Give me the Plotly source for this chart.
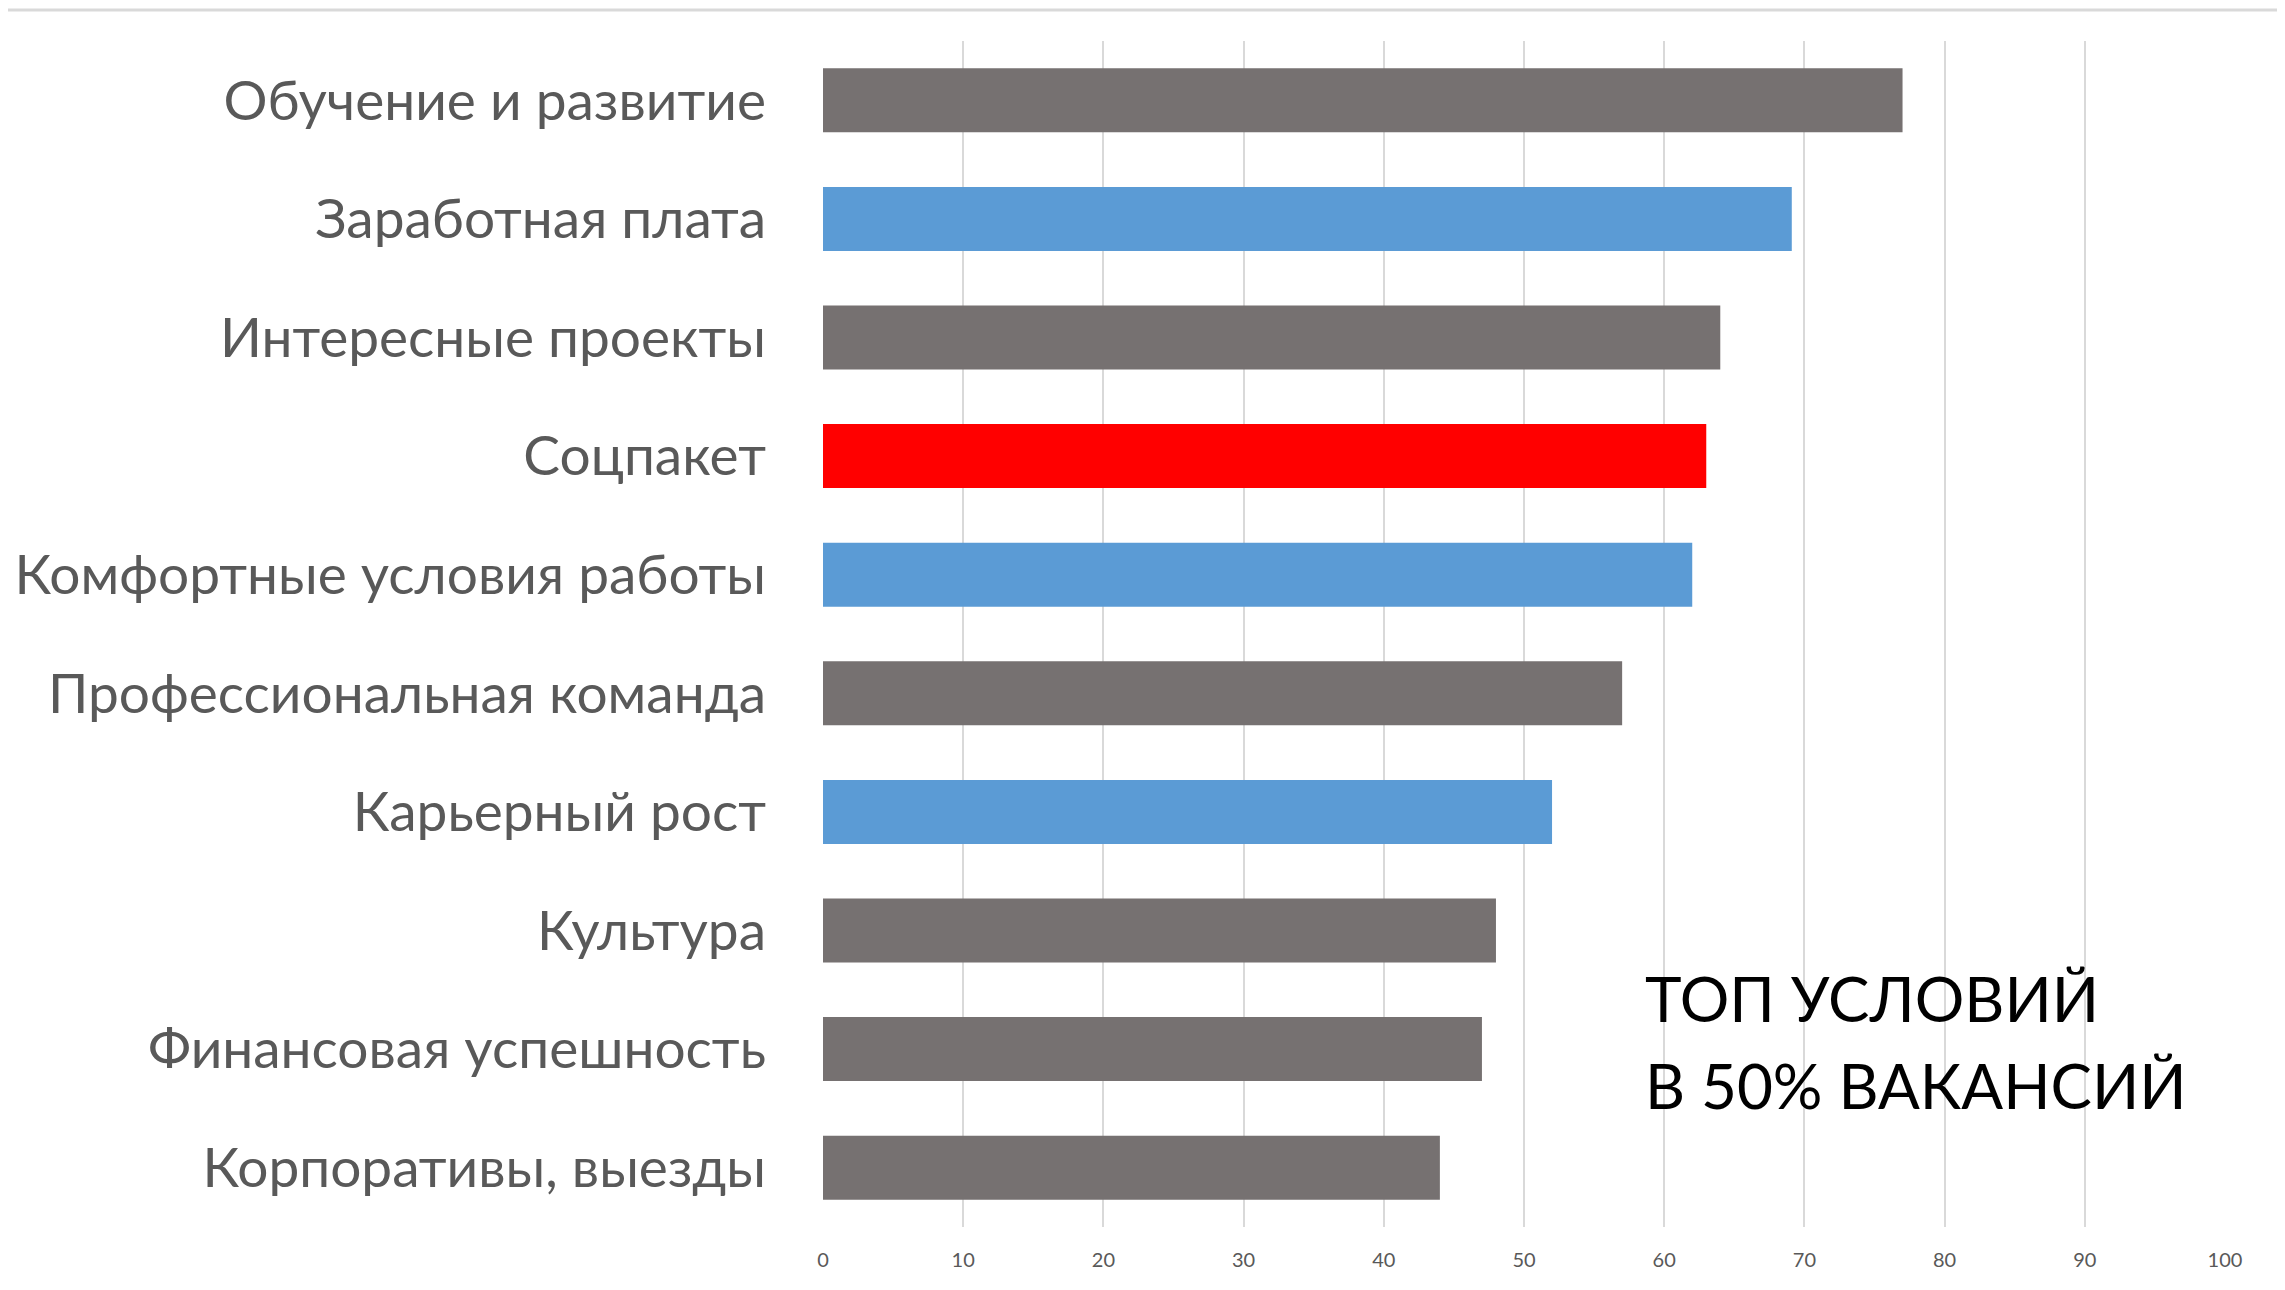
import plotly.graph_objects as go

categories = [
    "Обучение и развитие",
    "Заработная плата",
    "Интересные проекты",
    "Соцпакет",
    "Комфортные условия работы",
    "Профессиональная команда",
    "Карьерный рост",
    "Культура",
    "Финансовая успешность",
    "Корпоративы, выезды",
]
values = [77, 69.1, 64, 63, 62, 57, 52, 48, 47, 44]
bar_colors = ["#767171", "#5B9BD5", "#767171", "#FF0000", "#5B9BD5",
              "#767171", "#5B9BD5", "#767171", "#767171", "#767171"]
x_ticks = list(range(0, 101, 10))
note_lines = ["ТОП УСЛОВИЙ", "В 50% ВАКАНСИЙ"]

fig = go.Figure(go.Bar(
    x=values, y=categories, orientation="h",
    marker=dict(color=bar_colors, line=dict(width=0)),
    width=0.54,
))

fig.update_layout(
    width=2285, height=1290,
    margin=dict(l=815, r=68, t=33, b=71),
    paper_bgcolor="white", plot_bgcolor="white",
    showlegend=False,
    font=dict(family="Lato, 'Open Sans', sans-serif", color="#595959"),
    xaxis=dict(
        range=[0, 100], tickvals=x_ticks, showgrid=True,
        gridcolor="#D9D9D9", gridwidth=2, zeroline=False,
        showline=False, tickfont=dict(size=20, color="#595959"),
        ticks="", ticklabelstandoff=19, automargin=False,
    ),
    yaxis=dict(
        autorange="reversed", showgrid=False, zeroline=False,
        showline=False, tickfont=dict(size=55, color="#595959"),
        ticks="", ticklabelstandoff=56, automargin=False,
    ),
    annotations=[
        dict(x=0.585, y=0.193, xref="paper", yref="paper",
             text=note_lines[0], showarrow=False,
             xanchor="left", yanchor="middle", align="left",
             font=dict(size=62, color="#000000",
                       family="Lato, 'Open Sans', sans-serif")),
        dict(x=0.585, y=0.120, xref="paper", yref="paper",
             text=note_lines[1], showarrow=False,
             xanchor="left", yanchor="middle", align="left",
             font=dict(size=62, color="#000000",
                       family="Lato, 'Open Sans', sans-serif")),
    ],
    shapes=[
        dict(type="line", xref="paper", yref="paper",
             x0=-0.6, x1=1.05, y0=1.0261, y1=1.0261,
             line=dict(color="#D9D9D9", width=3)),
    ],
)

fig.write_html("out.html")
